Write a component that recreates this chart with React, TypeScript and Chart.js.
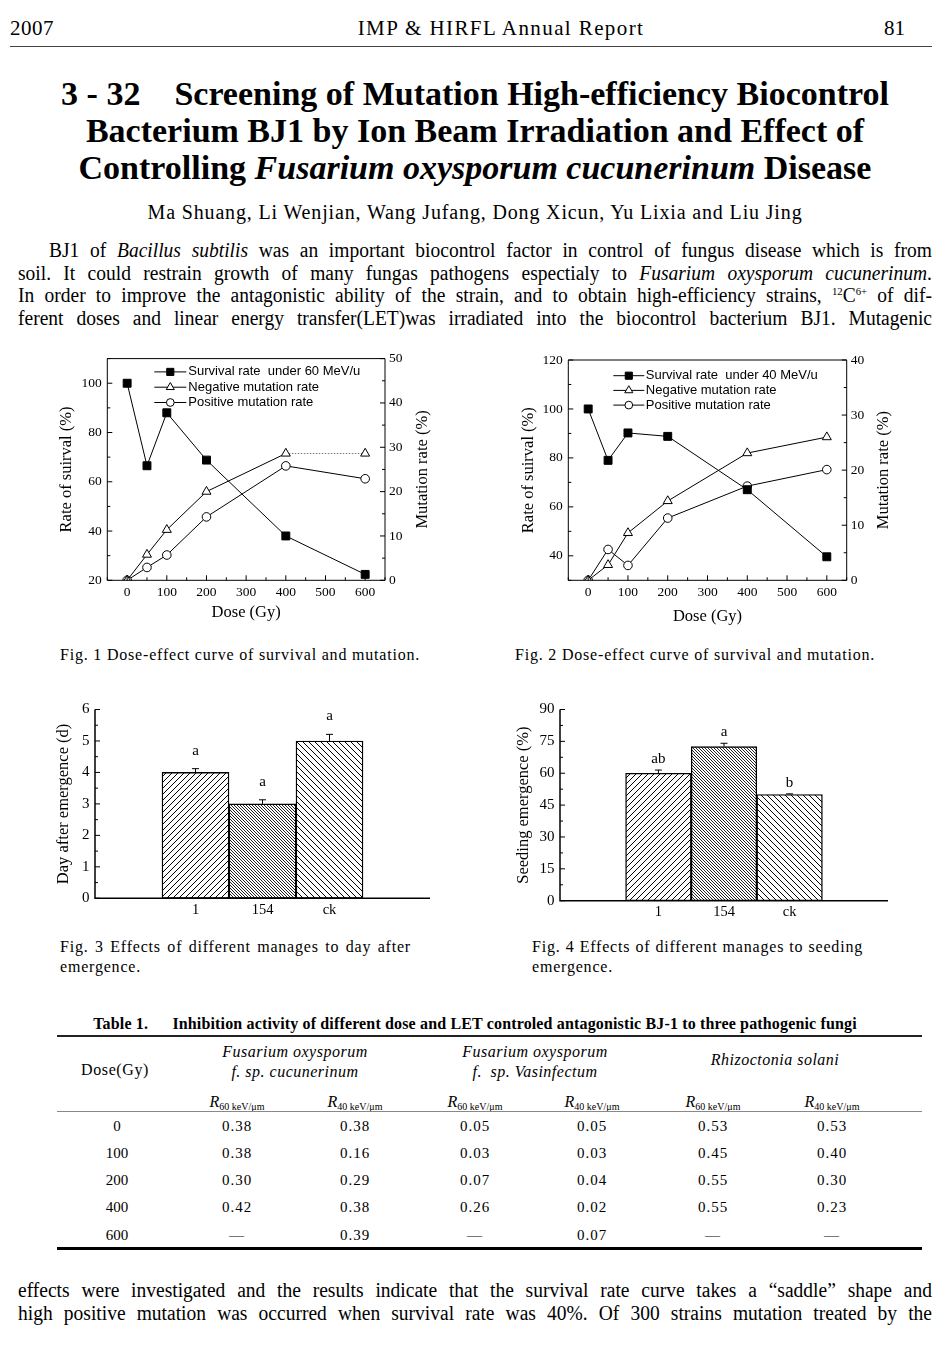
import React, { useEffect, useRef } from 'react';
import { Chart, registerables } from 'chart.js';

Chart.register(...registerables);

const SERIF = "'Liberation Serif', 'Times New Roman', serif";
const SANS = "'Liberation Sans', Arial, sans-serif";

// ---------- Fig. 1 / Fig. 2 data ----------
const doses = [0, 50, 100, 200, 400, 600];
const doseTicks = [0, 100, 200, 300, 400, 500, 600];

const fig1Survival = [100, 66.5, 88, 68.8, 38, 22.4];
const fig1Negative = [0, 5.8, 11.4, 20.0, 28.6, 28.6];
const fig1Positive = [0, 2.9, 5.7, 14.3, 25.8, 22.9];
const fig1LeftTicks = [20, 40, 60, 80, 100];
const fig1RightTicks = [0, 10, 20, 30, 40, 50];

const fig2Survival = [100, 79, 90.2, 88.8, 67, 39.6];
const fig2Negative = [0, 2.8, 8.6, 14.4, 23.1, 26.0];
const fig2Positive = [0, 5.6, 2.7, 11.3, 17.1, 20.1];
const fig2LeftTicks = [40, 60, 80, 100, 120];
const fig2RightTicks = [0, 10, 20, 30, 40];

// ---------- Fig. 3 / Fig. 4 data ----------
const treatments = ['1', '154', 'ck'];
const fig3Days = [4, 3, 5];
const fig3Err = [0.12, 0.13, 0.21];
const fig3Letters = ['a', 'a', 'a'];
const fig3Ticks = [0, 1, 2, 3, 4, 5, 6];

const fig4Emergence = [60, 72.5, 50];
const fig4Err = [1.5, 1.6, 0.3];
const fig4Letters = ['ab', 'a', 'b'];
const fig4Ticks = [0, 15, 30, 45, 60, 75, 90];

// ---------- Table data ----------
const tableDoses = [0, 100, 200, 400, 600];
const cucR60 = [0.38, 0.38, 0.30, 0.42, null];
const cucR40 = [0.38, 0.16, 0.29, 0.38, 0.39];
const vasR60 = [0.05, 0.03, 0.07, 0.26, null];
const vasR40 = [0.05, 0.03, 0.04, 0.02, 0.07];
const rhiR60 = [0.53, 0.45, 0.55, 0.55, null];
const rhiR40 = [0.53, 0.40, 0.30, 0.23, null];

const pad = (a: any[]) => [null, ...a, null];

function drawMarker(ctx: CanvasRenderingContext2D, style: string, x: number, y: number, r: number, fill: string) {
  ctx.beginPath();
  if (style === 'rect') {
    const s = r * Math.SQRT1_2;
    ctx.rect(x - s, y - s, 2 * s, 2 * s);
  } else if (style === 'triangle') {
    let rad = 0;
    for (let k = 0; k < 3; k++) {
      const px = x + Math.sin(rad) * r;
      const py = y - Math.cos(rad) * r;
      if (k === 0) ctx.moveTo(px, py);
      else ctx.lineTo(px, py);
      rad += (2 * Math.PI) / 3;
    }
    ctx.closePath();
  } else {
    ctx.arc(x, y, r, 0, Math.PI * 2);
  }
  ctx.fillStyle = fill;
  ctx.fill();
  ctx.stroke();
}

const frameTicks = {
  id: 'frameTicks',
  afterDraw(chart: any, _args: any, o: any) {
    const { ctx, chartArea: a } = chart;
    ctx.save();
    ctx.strokeStyle = '#000';
    ctx.lineWidth = o.lineWidth || 1;
    ctx.beginPath();
    if (o.box) {
      ctx.rect(a.left, a.top, a.right - a.left, a.bottom - a.top);
    } else {
      ctx.moveTo(a.left, a.top);
      ctx.lineTo(a.left, a.bottom);
      ctx.lineTo(a.right, a.bottom);
    }
    ctx.stroke();
    ctx.lineWidth = o.tickWidth || 1;
    (o.scales || []).forEach((sc: any) => {
      const scale = chart.scales[sc.id];
      const marks: [number, number][] = [];
      scale.ticks.forEach((t: any) => marks.push([t.value, sc.len]));
      if (sc.minorStep) {
        const st = sc.minorStep;
        for (let v = Math.ceil(scale.min / st) * st; v <= scale.max + 1e-9; v += st) {
          if (!scale.ticks.some((t: any) => Math.abs(t.value - v) < 1e-9)) marks.push([v, sc.minorLen]);
        }
      }
      ctx.beginPath();
      marks.forEach(([v, len]) => {
        const p = scale.getPixelForValue(v);
        if (scale.position === 'bottom') {
          ctx.moveTo(p, a.bottom);
          ctx.lineTo(p, a.bottom - len);
        } else if (scale.position === 'left') {
          ctx.moveTo(a.left, p);
          ctx.lineTo(a.left + len, p);
        } else {
          ctx.moveTo(a.right, p);
          ctx.lineTo(a.right - len, p);
        }
      });
      ctx.stroke();
    });
    if (o.rightTitle) {
      ctx.save();
      ctx.translate(chart.width - o.rightTitle.offset, (a.top + a.bottom) / 2);
      ctx.rotate(-Math.PI / 2);
      ctx.font = o.rightTitle.font;
      ctx.fillStyle = '#000';
      ctx.textAlign = 'center';
      ctx.textBaseline = 'middle';
      ctx.fillText(o.rightTitle.text, 0, 0);
      ctx.restore();
    }
    ctx.restore();
  },
};

const floatLegend = {
  id: 'floatLegend',
  afterDraw(chart: any, _args: any, o: any) {
    const { ctx, chartArea: a } = chart;
    ctx.save();
    chart.data.datasets.forEach((ds: any, i: number) => {
      const y = a.top + o.y + i * o.rowH;
      const x0 = a.left + o.x;
      ctx.strokeStyle = '#000';
      ctx.lineWidth = 1;
      ctx.beginPath();
      ctx.moveTo(x0, y);
      ctx.lineTo(x0 + o.lineLen, y);
      ctx.stroke();
      drawMarker(ctx, ds.pointStyle, x0 + o.lineLen / 2, y, ds.pointRadius * 0.9, ds.pointBackgroundColor);
      ctx.fillStyle = '#000';
      ctx.font = o.font;
      ctx.textBaseline = 'middle';
      ctx.textAlign = 'left';
      ctx.fillText(ds.label, x0 + o.lineLen + o.gap, y);
    });
    ctx.restore();
  },
};

const barNotes = {
  id: 'barNotes',
  afterDatasetsDraw(chart: any, _args: any, o: any) {
    const { ctx } = chart;
    const ds = chart.data.datasets[0];
    const meta = chart.getDatasetMeta(0);
    const ys = chart.scales.y;
    ctx.save();
    ctx.strokeStyle = '#000';
    ctx.lineWidth = 1;
    ctx.fillStyle = '#000';
    ctx.font = o.font;
    ctx.textAlign = 'center';
    ctx.textBaseline = 'middle';
    meta.data.forEach((bar: any, i: number) => {
      const v = ds.data[i];
      if (v == null) return;
      const e = o.errors[i] || 0;
      const top = ys.getPixelForValue(v + e);
      ctx.beginPath();
      ctx.moveTo(bar.x, bar.y);
      ctx.lineTo(bar.x, top);
      ctx.moveTo(bar.x - o.cap, top);
      ctx.lineTo(bar.x + o.cap, top);
      ctx.stroke();
      if (o.letters[i]) ctx.fillText(o.letters[i], bar.x, top - o.gap);
    });
    ctx.restore();
  },
};

function hatch(canvas: HTMLCanvasElement, dir: string, size: number, lw: number, color: string) {
  const c = document.createElement('canvas');
  c.width = size;
  c.height = size;
  const g = c.getContext('2d')!;
  g.fillStyle = '#fff';
  g.fillRect(0, 0, size, size);
  g.strokeStyle = color;
  g.lineWidth = lw;
  g.beginPath();
  if (dir === '/') {
    g.moveTo(0, size); g.lineTo(size, 0);
    g.moveTo(-1, 1); g.lineTo(1, -1);
    g.moveTo(size - 1, size + 1); g.lineTo(size + 1, size - 1);
  } else {
    g.moveTo(0, 0); g.lineTo(size, size);
    g.moveTo(size - 1, -1); g.lineTo(size + 1, 1);
    g.moveTo(-1, size - 1); g.lineTo(1, size + 1);
  }
  g.stroke();
  return canvas.getContext('2d')!.createPattern(c, 'repeat');
}

function lineConfig(p: any) {
  const pts = (vals: number[]) => doses.map((d, i) => ({ x: d, y: vals[i] }));
  const base = { borderColor: '#000', borderWidth: 1, pointBorderColor: '#000', pointBorderWidth: 1, tension: 0 };
  const tickFont = { family: SERIF, size: 13.5 };
  const titleFont = { family: SERIF, size: 16.5 };
  return {
    type: 'line',
    data: {
      datasets: [
        { ...base, label: p.survLabel, data: pts(p.survival), yAxisID: 'y', pointStyle: 'rect', pointRadius: 5.6, pointBackgroundColor: '#000' },
        {
          ...base, label: 'Negative mutation rate', data: pts(p.negative), yAxisID: 'y2', pointStyle: 'triangle', pointRadius: 5.2, pointBackgroundColor: '#fff',
          segment: p.dottedLast ? {
            borderColor: (c: any) => (c.p0DataIndex === 4 ? '#777' : undefined),
            borderDash: (c: any) => (c.p0DataIndex === 4 ? [1.5, 1.5] : undefined),
          } : undefined,
        },
        { ...base, label: 'Positive mutation rate', data: pts(p.positive), yAxisID: 'y2', pointStyle: 'circle', pointRadius: 4.3, pointBackgroundColor: '#fff' },
      ],
    },
    options: {
      animation: false,
      responsive: false,
      devicePixelRatio: 1,
      layout: { padding: { top: p.top, left: 0, right: 0, bottom: 0 } },
      plugins: {
        legend: { display: false },
        tooltip: { enabled: false },
        floatLegend: { ...p.legend, font: `13px ${SANS}` },
        frameTicks: {
          box: true,
          lineWidth: 1,
          rightTitle: { text: 'Mutation rate (%)', offset: p.rTitleOffset, font: `16.5px ${SERIF}` },
          scales: [
            { id: 'x', len: 5, minorStep: 50, minorLen: 3 },
            { id: 'y', len: 5, minorStep: p.leftMinor, minorLen: 3 },
            { id: 'y2', len: 5, minorStep: p.rightMinor, minorLen: 3 },
          ],
        },
      },
      scales: {
        x: {
          type: 'linear', min: -50, max: 650,
          afterBuildTicks: (s: any) => { s.ticks = doseTicks.map((v) => ({ value: v })); },
          grid: { display: false, drawTicks: false }, border: { display: false },
          ticks: { font: tickFont, color: '#000', padding: p.xPad, maxRotation: 0, autoSkip: false },
          title: { display: true, text: 'Dose (Gy)', font: titleFont, color: '#000', padding: { top: 0, bottom: p.xTitlePad } },
          afterFit: (s: any) => { s.height = p.xH; },
        },
        y: {
          type: 'linear', position: 'left', min: p.yMin, max: p.yMax,
          afterBuildTicks: (s: any) => { s.ticks = p.leftTicks.map((v: number) => ({ value: v })); },
          grid: { display: false, drawTicks: false }, border: { display: false },
          ticks: { font: tickFont, color: '#000', padding: 5.5, autoSkip: false },
          title: { display: true, text: 'Rate of suirval (%)', font: titleFont, color: '#000', padding: { top: p.lTitlePad, bottom: 0 } },
          afterFit: (s: any) => { s.width = p.yW; },
        },
        y2: {
          type: 'linear', position: 'right', min: 0, max: p.y2Max,
          afterBuildTicks: (s: any) => { s.ticks = p.rightTicks.map((v: number) => ({ value: v })); },
          grid: { display: false, drawTicks: false }, border: { display: false },
          ticks: { font: tickFont, color: '#000', padding: 4, autoSkip: false },
          title: { display: false },
          afterFit: (s: any) => { s.width = p.y2W; },
        },
      },
    },
    plugins: [frameTicks, floatLegend],
  };
}

function barConfig(canvas: HTMLCanvasElement, p: any) {
  const fills = [null, hatch(canvas, '/', 6, 1, '#000'), hatch(canvas, '\\', 3, 1, '#222'), hatch(canvas, '\\', 6, 1, '#000'), null];
  return {
    type: 'bar',
    data: {
      labels: pad(treatments).map((l) => (l == null ? '' : l)),
      datasets: [{
        data: pad(p.values), backgroundColor: fills, borderColor: '#000', borderWidth: 1.4, borderSkipped: false,
        barPercentage: 1, categoryPercentage: 1,
      }],
    },
    options: {
      animation: false,
      responsive: false,
      devicePixelRatio: 1,
      layout: { padding: { top: p.top, right: p.right, left: 0, bottom: 0 } },
      plugins: {
        legend: { display: false },
        tooltip: { enabled: false },
        barNotes: { errors: pad(p.errors), letters: pad(p.letters), cap: 3.5, gap: p.letterGap, font: `15px ${SERIF}` },
        frameTicks: {
          box: false, lineWidth: 1.5,
          scales: [{ id: 'y', len: 5, minorStep: p.minor, minorLen: 3 }],
        },
      },
      scales: {
        x: {
          grid: { display: false, drawTicks: false }, border: { display: false },
          ticks: { font: { family: SERIF, size: 14.5 }, color: '#000', padding: p.xPad, maxRotation: 0, autoSkip: false },
          afterFit: (s: any) => { s.height = p.xH; },
        },
        y: {
          min: 0, max: p.max,
          afterBuildTicks: (s: any) => { s.ticks = p.ticks.map((v: number) => ({ value: v })); },
          grid: { display: false, drawTicks: false }, border: { display: false },
          ticks: { font: { family: SERIF, size: 15 }, color: '#000', padding: 5.5, autoSkip: false },
          title: { display: true, text: p.title, font: { family: SERIF, size: 16.5 }, color: '#000', padding: { top: p.titlePad, bottom: 0 } },
          afterFit: (s: any) => { s.width = p.yW; },
        },
      },
    },
    plugins: [barNotes, frameTicks],
  };
}

function ChartCanvas({ left, top, width, height, build }: any) {
  const ref = useRef<HTMLCanvasElement>(null);
  useEffect(() => {
    const canvas = ref.current!;
    const chart = new Chart(canvas, build(canvas));
    return () => chart.destroy();
  }, []);
  return (
    <div style={{ position: 'absolute', left, top, width, height }}>
      <canvas ref={ref} width={width} height={height} style={{ width, height, display: 'block' }} />
    </div>
  );
}

// justified single line, optionally condensed horizontally
const J = ({ x, y, w, fs, lh = 22, indent = 0, sx = 1, children, style }: any) => (
  <div style={{
    position: 'absolute', left: x, top: y - lh / 2, width: w / sx, fontSize: fs, lineHeight: lh + 'px',
    textAlign: 'justify', textAlignLast: 'justify', textIndent: indent / sx,
    transform: `scaleX(${sx})`, transformOrigin: '0 0', ...style,
  }}>{children}</div>
);

const C = ({ cx, y, fs, lh = 20, children, style }: any) => (
  <div style={{ position: 'absolute', left: cx - 500, width: 1000, top: y - lh / 2, fontSize: fs, lineHeight: lh + 'px', textAlign: 'center', whiteSpace: 'nowrap', ...style }}>{children}</div>
);

const fmt = (v: number | null) => (v == null ? '—' : v.toFixed(2));

const P = { fs: 20, sx: 0.975, x: 18, w: 914, lh: 22 };
const CAP = { fontSize: 16, lineHeight: '20px', letterSpacing: 0.8 };

export default function App() {
  Chart.defaults.font.family = SERIF;
  Chart.defaults.color = '#000';

  const colCenters = [237, 355, 475, 592, 713, 832];
  const tableCols = [cucR60, cucR40, vasR60, vasR40, rhiR60, rhiR40];
  const subLabels = ['60', '40', '60', '40', '60', '40'];
  const rowY = [1126, 1153, 1180, 1207, 1235];
  const ital = { fontStyle: 'italic', letterSpacing: 0.5 };

  return (
    <div style={{ position: 'absolute', left: 0, top: 0, width: 950, height: 1354, background: '#fff', fontFamily: SERIF, color: '#000', overflow: 'hidden' }}>
      {/* Header */}
      <div style={{ position: 'absolute', left: 10, top: 16, fontSize: 21, lineHeight: '24px', letterSpacing: 0.5 }}>2007</div>
      <C cx={501} y={28} fs={21} lh={24} style={{ letterSpacing: 1.4 }}>IMP &amp; HIRFL Annual Report</C>
      <div style={{ position: 'absolute', right: 45, top: 16, fontSize: 21, lineHeight: '24px' }}>81</div>
      <div style={{ position: 'absolute', left: 10, top: 46, width: 922, height: 1, background: '#444' }} />

      {/* Title */}
      <div style={{ position: 'absolute', left: 0, width: 950, top: 74.5, fontSize: 34, lineHeight: '37px', fontWeight: 'bold', textAlign: 'center' }}>
        <div>3 - 32&emsp;Screening of Mutation High-efficiency Biocontrol</div>
        <div>Bacterium BJ1 by Ion Beam Irradiation and Effect of</div>
        <div>Controlling <i>Fusarium oxysporum cucunerinum</i> Disease</div>
      </div>

      <C cx={475} y={212} fs={20} lh={22} style={{ letterSpacing: 0.85 }}>Ma Shuang, Li Wenjian, Wang Jufang, Dong Xicun, Yu Lixia and Liu Jing</C>

      {/* Paragraph */}
      <J x={P.x} y={250} w={P.w} fs={P.fs} sx={P.sx} indent={31}>BJ1 of <i>Bacillus subtilis</i> was an important biocontrol factor in control of fungus disease which is from</J>
      <J x={P.x} y={272.5} w={P.w} fs={P.fs} sx={P.sx}>soil. It could restrain growth of many fungas pathogens espectialy to <i>Fusarium oxysporum cucunerinum</i>.</J>
      <J x={P.x} y={295} w={P.w} fs={P.fs} sx={P.sx}>In order to improve the antagonistic ability of the strain, and to obtain high-efficiency strains, <sup style={{ fontSize: 11, verticalAlign: 7, lineHeight: 0 }}>12</sup>C<sup style={{ fontSize: 11, verticalAlign: 7, lineHeight: 0 }}>6+</sup> of dif-</J>
      <J x={P.x} y={318} w={P.w} fs={P.fs} sx={P.sx}>ferent doses and linear energy transfer(LET)was irradiated into the biocontrol bacterium BJ1. Mutagenic</J>

      {/* Fig 1 */}
      <ChartCanvas left={40} top={345} width={410} height={285} build={() => lineConfig({
        survLabel: 'Survival rate  under 60 MeV/u', survival: fig1Survival, negative: fig1Negative, positive: fig1Positive,
        yMin: 20, yMax: 110, y2Max: 50, leftTicks: fig1LeftTicks, rightTicks: fig1RightTicks, leftMinor: 10, rightMinor: 5,
        top: 12.7, xH: 49.7, yW: 67.3, y2W: 65, xPad: 4, xTitlePad: 7.4, lTitlePad: 16.4, rTitleOffset: 27,
        legend: { x: 47, y: 13.3, rowH: 15.3, lineLen: 32, gap: 2 }, dottedLast: true,
      })} />
      {/* Fig 2 */}
      <ChartCanvas left={500} top={345} width={410} height={285} build={() => lineConfig({
        survLabel: 'Survival rate  under 40 MeV/u', survival: fig2Survival, negative: fig2Negative, positive: fig2Positive,
        yMin: 30, yMax: 120, y2Max: 40, leftTicks: fig2LeftTicks, rightTicks: fig2RightTicks, leftMinor: 10, rightMinor: 5,
        top: 15, xH: 49.7, yW: 68.3, y2W: 63.3, xPad: 3.6, xTitlePad: 3.7, lTitlePad: 18.7, rTitleOffset: 26.7,
        legend: { x: 45, y: 15.7, rowH: 14.7, lineLen: 31, gap: 1.5 }, dottedLast: false,
      })} />

      <div style={{ position: 'absolute', left: 60, top: 645, ...CAP }}>Fig. 1 Dose-effect curve of survival and mutation.</div>
      <div style={{ position: 'absolute', left: 515, top: 645, ...CAP }}>Fig. 2 Dose-effect curve of survival and mutation.</div>

      {/* Fig 3 */}
      <ChartCanvas left={40} top={695} width={400} height={230} build={(cv: HTMLCanvasElement) => barConfig(cv, {
        values: fig3Days, errors: fig3Err, letters: fig3Letters, ticks: fig3Ticks, max: 6, minor: 0.5,
        title: 'Day after emergence (d)', top: 10.7, right: 10, xH: 26.7, yW: 55, xPad: 3.3, titlePad: 13.4, letterGap: 18,
      })} />
      {/* Fig 4 */}
      <ChartCanvas left={505} top={695} width={400} height={230} build={(cv: HTMLCanvasElement) => barConfig(cv, {
        values: fig4Emergence, errors: fig4Err, letters: fig4Letters, ticks: fig4Ticks, max: 90, minor: 7.5,
        title: 'Seeding emergence (%)', top: 10, right: 17, xH: 24.3, yW: 55, xPad: 2.6, titlePad: 8.7, letterGap: 11,
      })} />

      <J x={60} y={947} w={351} fs={16} lh={20} style={{ letterSpacing: 0.8 }}>Fig. 3 Effects of different manages to day after</J>
      <div style={{ position: 'absolute', left: 60, top: 957, ...CAP }}>emergence.</div>
      <J x={532} y={947} w={331} fs={16} lh={20} style={{ letterSpacing: 0.8 }}>Fig. 4 Effects of different manages to seeding</J>
      <div style={{ position: 'absolute', left: 532, top: 957, ...CAP }}>emergence.</div>

      {/* Table */}
      <C cx={475} y={1024} fs={16} lh={18} style={{ fontWeight: 'bold', letterSpacing: 0.15 }}>Table 1.&emsp;&ensp;Inhibition activity of different dose and LET controled antagonistic BJ-1 to three pathogenic fungi</C>
      <div style={{ position: 'absolute', left: 57, top: 1035, width: 865, height: 2, background: '#222' }} />
      <C cx={115} y={1070} fs={16} style={{ letterSpacing: 0.6 }}>Dose(Gy)</C>
      <C cx={295} y={1052} fs={16} style={ital}>Fusarium oxysporum</C>
      <C cx={295} y={1072} fs={16} style={ital}>f. sp. cucunerinum</C>
      <C cx={535} y={1052} fs={16} style={ital}>Fusarium oxysporum</C>
      <C cx={535} y={1072} fs={16} style={ital}>f.&ensp;sp. Vasinfectum</C>
      <C cx={775} y={1060} fs={16} style={ital}>Rhizoctonia solani</C>
      {colCenters.map((cx, i) => (
        <C key={'s' + i} cx={cx} y={1102} fs={16}>
          <i>R</i><sub style={{ fontSize: 10, verticalAlign: -3, lineHeight: 0 }}>{subLabels[i]} keV/μm</sub>
        </C>
      ))}
      <div style={{ position: 'absolute', left: 57, top: 1111, width: 865, height: 1, background: '#888' }} />
      {tableDoses.map((d, r) => (
        <React.Fragment key={'r' + r}>
          <C cx={117} y={rowY[r]} fs={15}>{d}</C>
          {tableCols.map((col, c) => (
            <C key={'c' + c} cx={colCenters[c]} y={rowY[r]} fs={15} style={{ letterSpacing: 1 }}>{fmt(col[r])}</C>
          ))}
        </React.Fragment>
      ))}
      <div style={{ position: 'absolute', left: 57, top: 1247, width: 865, height: 2.5, background: '#000' }} />

      {/* Bottom paragraph */}
      <J x={P.x} y={1290} w={P.w} fs={P.fs} sx={P.sx}>effects were investigated and the results indicate that the survival rate curve takes a “saddle” shape and</J>
      <J x={P.x} y={1312.5} w={P.w} fs={P.fs} sx={P.sx}>high positive mutation was occurred when survival rate was 40%. Of 300 strains mutation treated by the</J>
    </div>
  );
}
